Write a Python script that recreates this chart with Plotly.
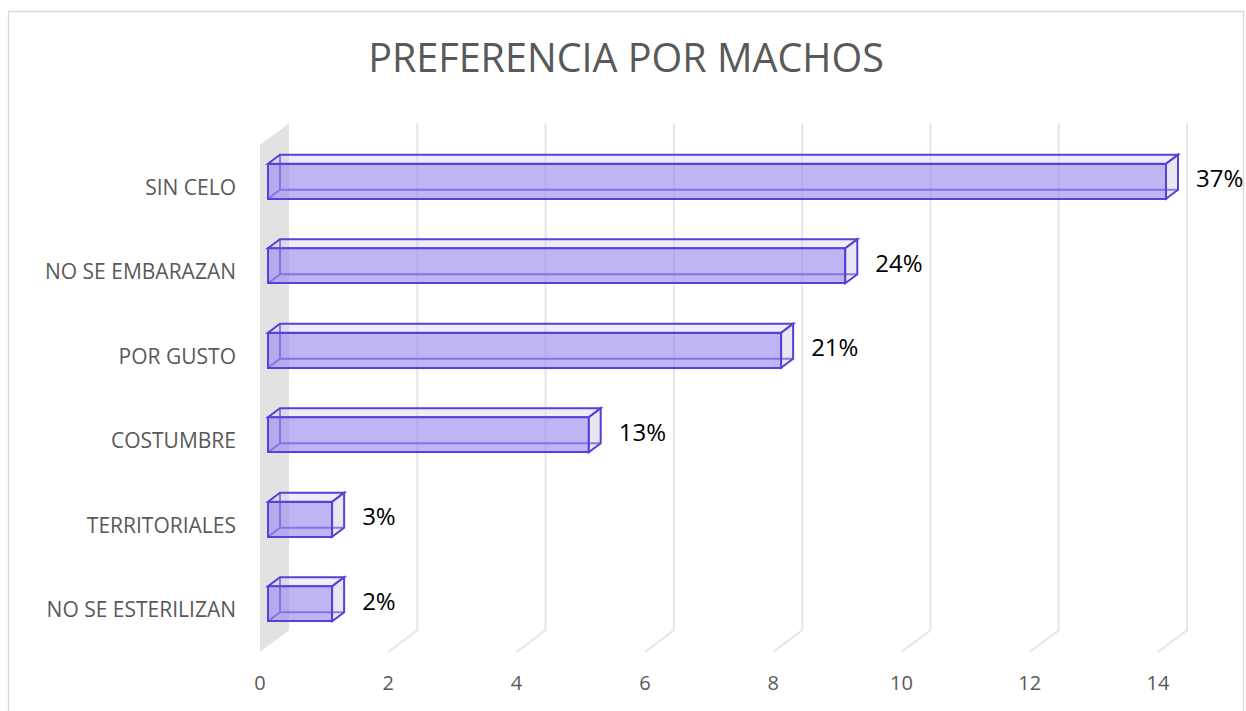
import plotly.graph_objects as go

# ---- data (top to bottom as in the chart) ----
categories = ["SIN CELO", "NO SE EMBARAZAN", "POR GUSTO", "COSTUMBRE", "TERRITORIALES", "NO SE ESTERILIZAN"]
values = [14, 9, 8, 5, 1, 1]
pct_labels = ["37%", "24%", "21%", "13%", "3%", "2%"]
x_ticks = [0, 2, 4, 6, 8, 10, 12, 14]

# ---- geometry (pixels) ----
W, H = 1246, 711
X0_PIX, X14_PIX = 260, 1158
SX = (X14_PIX - X0_PIX) / 14.0           # px per unit on x
SY = 84.5                                 # px per category
FLOOR_PIX = 652                           # front floor pixel (y = -0.5)
L, R, T, B = 247, 1228, 112, 665          # plot area edges in pixels

xr = [(L - X0_PIX) / SX, (R - X0_PIX) / SX]
yr = [-0.5 - (B - FLOOR_PIX) / SY, -0.5 + (FLOOR_PIX - T) / SY]


def ddx(d):
    return d / SX


def ddy(d):
    return 0.75 * d / SY


WALL_D = 29
BAR_F, BAR_B = 8, 20
BAR_H = 35 / SY

n = len(categories)
pos = [n - 1 - k for k in range(n)]

EDGE = "#5a3fd8"
shapes = []

# gray side wall
wx, wy = ddx(WALL_D), ddy(WALL_D)
shapes.append(dict(type="path", xref="x", yref="y", layer="below",
                   path=f"M 0,-0.5 L 0,{n-0.5} L {wx},{n-0.5+wy} L {wx},{-0.5+wy} Z",
                   fillcolor="#e2e2e2", line=dict(width=0)))
# 3D gridlines
for v in x_ticks[1:]:
    shapes.append(dict(type="path", xref="x", yref="y", layer="below",
                       path=f"M {v+wx},{n-0.5+wy} L {v+wx},{-0.5+wy} L {v},-0.5",
                       line=dict(color="#e6e6e6", width=2)))

# hidden back edges of each box
fx, fy = ddx(BAR_F), ddy(BAR_F)
bx, by = ddx(BAR_B), ddy(BAR_B)
for v, p in zip(values, pos):
    b_bot, b_top = p + by - BAR_H / 2, p + by + BAR_H / 2
    f_bot = p + fy - BAR_H / 2
    shapes.append(dict(type="path", xref="x", yref="y", layer="below",
                       path=(f"M {bx},{b_top} L {bx},{b_bot} L {v+bx},{b_bot} "
                             f"M {fx},{f_bot} L {bx},{b_bot}"),
                       line=dict(color=EDGE, width=2)))

# visible top and right faces
for v, p in zip(values, pos):
    f_top, f_bot = p + fy + BAR_H / 2, p + fy - BAR_H / 2
    b_top, b_bot = p + by + BAR_H / 2, p + by - BAR_H / 2
    shapes.append(dict(type="path", xref="x", yref="y", layer="above",
                       path=(f"M {fx},{f_top} L {v+fx},{f_top} L {v+bx},{b_top} "
                             f"L {bx},{b_top} Z"),
                       fillcolor="rgba(215,210,242,0.4)", line=dict(color=EDGE, width=2)))
    shapes.append(dict(type="path", xref="x", yref="y", layer="above",
                       path=(f"M {v+fx},{f_top} L {v+fx},{f_bot} L {v+bx},{b_bot} "
                             f"L {v+bx},{b_top} Z"),
                       fillcolor="rgba(205,202,225,0.45)", line=dict(color=EDGE, width=2)))

# chart border
def px_to_paper_x(px):
    return (px - L) / (R - L)


def px_to_paper_y(py):
    return (B - py) / (B - T)


shapes.append(dict(type="rect", xref="paper", yref="paper", layer="below",
                   x0=px_to_paper_x(8.5), x1=px_to_paper_x(1243.5),
                   y0=px_to_paper_y(730), y1=px_to_paper_y(11.5),
                   line=dict(color="#d9d9d9", width=1.3), fillcolor="rgba(0,0,0,0)"))

fig = go.Figure()
# front faces of the bars
fig.add_trace(go.Bar(
    orientation="h",
    y=[p + fy for p in pos],
    x=values,
    base=fx,
    width=BAR_H,
    marker=dict(color="rgba(160,140,240,0.65)", line=dict(color=EDGE, width=2)),
    hoverinfo="skip",
))
# data labels
fig.add_trace(go.Scatter(
    x=[v + bx + ddx(18) for v in values],
    y=[p + fy for p in pos],
    text=pct_labels,
    mode="text",
    textposition="middle right",
    textfont=dict(family="Open Sans", size=24, color="#000000"),
    cliponaxis=False,
    hoverinfo="skip",
))

fig.update_layout(
    width=W, height=H,
    margin=dict(l=L, r=W - R, t=T, b=H - B, pad=0),
    paper_bgcolor="white", plot_bgcolor="rgba(0,0,0,0)",
    showlegend=False,
    bargap=0,
    title=dict(text="PREFERENCIA POR MACHOS", x=626 / W, xanchor="center",
               y=1 - 58 / H, yanchor="middle",
               font=dict(family="Open Sans", size=39.5, color="#595959")),
    shapes=shapes,
    xaxis=dict(range=xr, tickvals=x_ticks, ticktext=[str(t) for t in x_ticks],
               showgrid=False, zeroline=False, showline=False, ticks="",
               tickfont=dict(family="Open Sans", size=20, color="#595959"),
               ticklabelstandoff=4, fixedrange=True),
    yaxis=dict(range=yr, tickvals=pos, ticktext=categories,
               showgrid=False, zeroline=False, showline=False, ticks="",
               tickfont=dict(family="Open Sans", size=21, color="#595959"),
               ticklabelstandoff=10, fixedrange=True),
)

fig.write_html("out.html", config={"displayModeBar": False},
               post_script="document.body.style.margin='0';document.body.style.overflow='hidden';")
